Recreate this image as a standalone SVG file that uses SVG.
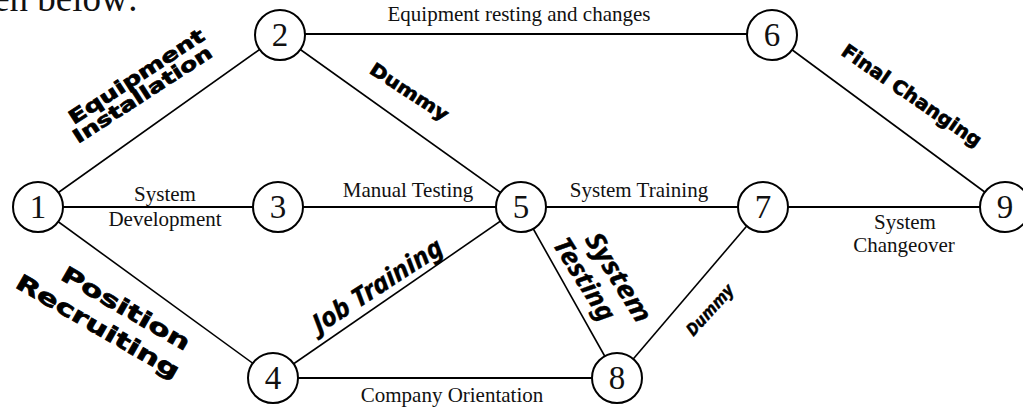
<svg xmlns="http://www.w3.org/2000/svg" width="1023" height="408" viewBox="0 0 1023 408">
  <style>
    .edge { stroke: #000; stroke-width: 2.2; fill: none; }
    .diag { stroke: #000; stroke-width: 1.6; fill: none; }
    .node circle { fill: #fff; stroke: #000; stroke-width: 2; }
    .num { font-family: "Liberation Serif", serif; font-size: 33px; text-anchor: middle; fill: #111; }
    .lbl { font-family: "Liberation Serif", serif; font-size: 21px; text-anchor: middle; fill: #111; }
    .heavy { font-family: "DejaVu Sans", sans-serif; font-weight: bold; text-anchor: middle; fill: #000; stroke: #000; stroke-width: 0.7; }
    .hum { font-family: "Noto Sans", Lato, sans-serif; font-weight: bold; font-style: italic; text-anchor: middle; fill: #000; stroke: #000; stroke-width: 0.4; }
  </style>
  <rect width="1023" height="408" fill="#fff"/>

  <!-- leading sentence fragment -->
  <text x="138" y="11" font-family="Liberation Serif, serif" font-size="37" text-anchor="end" fill="#111">en below:</text>

  <!-- activity arrows -->
  <g id="connectors">
    <line class="diag" x1="38" y1="207" x2="280" y2="35"/>
    <line class="edge" x1="38" y1="207" x2="278" y2="207"/>
    <line class="diag" x1="38" y1="207" x2="273" y2="378"/>
    <line class="edge" x1="280" y1="34" x2="772" y2="34"/>
    <line class="diag" x1="280" y1="35" x2="521" y2="207"/>
    <line class="edge" x1="278" y1="207" x2="521" y2="207"/>
    <line class="diag" x1="273" y1="378" x2="521" y2="207"/>
    <line class="edge" x1="273" y1="378" x2="617" y2="378"/>
    <line class="edge" x1="521" y1="207" x2="763" y2="207"/>
    <line class="diag" x1="521" y1="207" x2="617" y2="378"/>
    <line class="diag" x1="772" y1="35" x2="1005" y2="207"/>
    <line class="edge" x1="763" y1="207" x2="1005" y2="207"/>
    <line class="diag" x1="763" y1="207" x2="617" y2="378"/>
  </g>

  <!-- activity labels -->
  <g id="labels">
    <text class="lbl" x="519" y="21">Equipment resting and changes</text>
    <text class="lbl" x="165" y="201">System</text>
    <text class="lbl" x="165" y="226">Development</text>
    <text class="lbl" x="408" y="197">Manual Testing</text>
    <text class="lbl" x="639" y="197">System Training</text>
    <text class="lbl" x="905" y="229">System</text>
    <text class="lbl" x="904" y="252">Changeover</text>
    <text class="lbl" x="452" y="402">Company Orientation</text>

    <text class="heavy" font-size="19" textLength="158" lengthAdjust="spacingAndGlyphs" transform="translate(140,82) rotate(-33)">Equipment</text>
    <text class="heavy" font-size="19" textLength="162" lengthAdjust="spacingAndGlyphs" transform="translate(146,100) rotate(-33)">Installation</text>
    <text class="heavy" font-size="18" textLength="90" lengthAdjust="spacingAndGlyphs" transform="translate(406,97) rotate(33)">Dummy</text>
    <text class="heavy" font-size="19" textLength="165" lengthAdjust="spacingAndGlyphs" transform="translate(908,101) rotate(34.5)">Final Changing</text>
    <text class="heavy" font-size="22" textLength="145" lengthAdjust="spacingAndGlyphs" transform="translate(122,315) rotate(30)">Position</text>
    <text class="heavy" font-size="22" textLength="185" lengthAdjust="spacingAndGlyphs" transform="translate(94,333) rotate(30)">Recruiting</text>

    <text class="hum" font-size="26" textLength="150" lengthAdjust="spacingAndGlyphs" transform="translate(382,293) rotate(-33)">Job Training</text>
    <text class="hum" font-size="26" textLength="101" lengthAdjust="spacingAndGlyphs" transform="translate(611,282) rotate(58)">System</text>
    <text class="hum" font-size="26" textLength="93" lengthAdjust="spacingAndGlyphs" transform="translate(577,284) rotate(58)">Testing</text>
    <text class="hum" font-size="17" textLength="62" lengthAdjust="spacingAndGlyphs" transform="translate(714,314) rotate(-48)">Dummy</text>
  </g>

  <!-- events -->
  <g id="node1" class="node"><circle cx="38" cy="207" r="25"/><text class="num" x="38" y="218">1</text></g>
  <g id="node2" class="node"><circle cx="280" cy="35" r="25"/><text class="num" x="280" y="46">2</text></g>
  <g id="node3" class="node"><circle cx="278" cy="207" r="25"/><text class="num" x="278" y="218">3</text></g>
  <g id="node4" class="node"><circle cx="273" cy="378" r="25"/><text class="num" x="273" y="389">4</text></g>
  <g id="node5" class="node"><circle cx="521" cy="207" r="25"/><text class="num" x="521" y="218">5</text></g>
  <g id="node6" class="node"><circle cx="772" cy="35" r="25"/><text class="num" x="772" y="46">6</text></g>
  <g id="node7" class="node"><circle cx="763" cy="207" r="25"/><text class="num" x="763" y="218">7</text></g>
  <g id="node8" class="node"><circle cx="617" cy="378" r="25"/><text class="num" x="617" y="389">8</text></g>
  <g id="node9" class="node"><circle cx="1005" cy="207" r="25"/><text class="num" x="1005" y="218">9</text></g>
</svg>
